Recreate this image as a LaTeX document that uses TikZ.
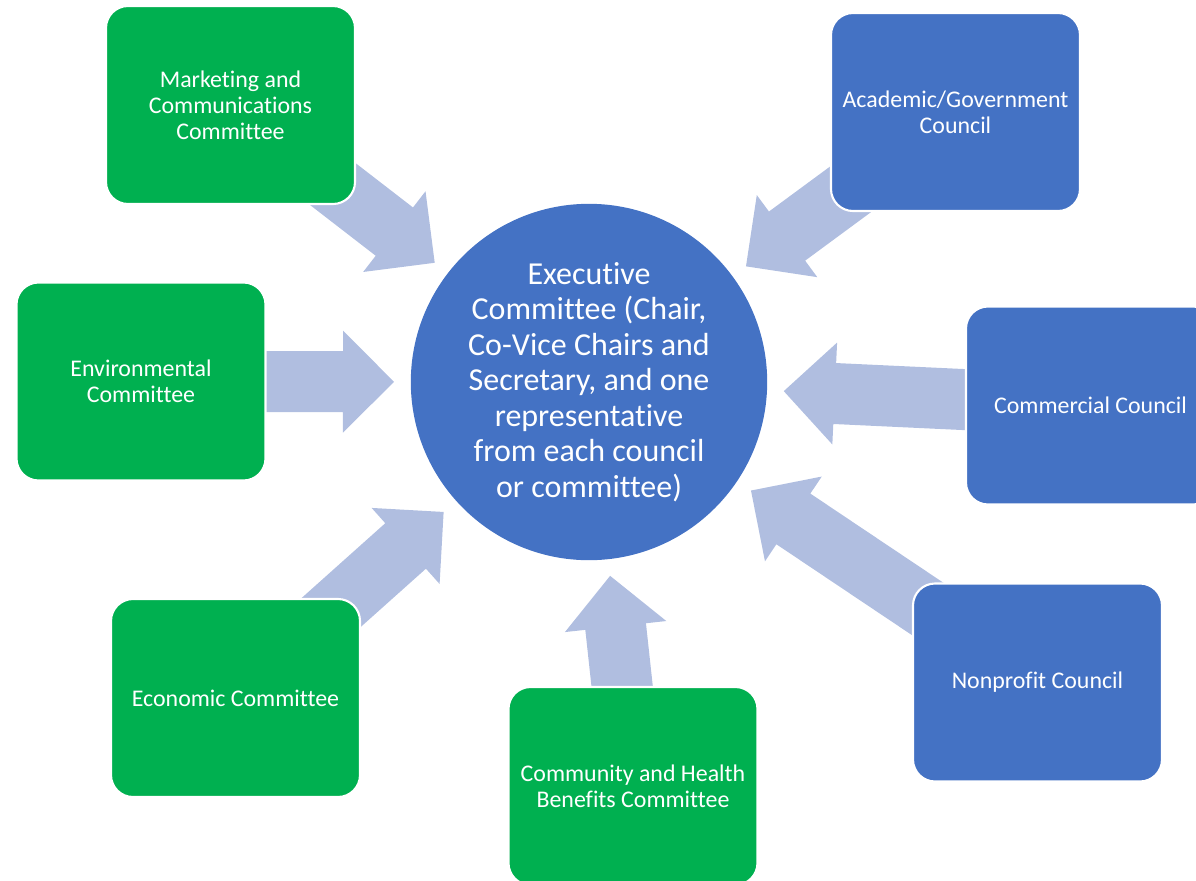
\documentclass[tikz,border=0pt]{standalone}
\usepackage{fontspec}
\setmainfont{Carlito}[Ligatures=NoCommon]
\usetikzlibrary{calc}
\usetikzlibrary{backgrounds}
\definecolor{execblue}{HTML}{4472C4}
\definecolor{commgreen}{HTML}{00B050}
\definecolor{arrowblue}{RGB}{176,190,224}
\newcommand{\radarrow}[1]{%
  \path ($(exec.center)!3.9cm!(#1.center)$) coordinate (tip)
        ($(exec.center)!4.92cm!(#1.center)$) coordinate (hb);
  \fill[arrowblue] ($(#1.center)!0.61cm!90:(tip)$) -- ($(hb)!0.61cm!90:(tip)$)
     -- ($(hb)!1.02cm!90:(tip)$) -- (tip) -- ($(hb)!1.02cm!-90:(tip)$)
     -- ($(hb)!0.61cm!-90:(tip)$) -- ($(#1.center)!0.61cm!-90:(tip)$) -- cycle;}

\begin{document}
\begin{tikzpicture}[
    box/.style={draw=white,line width=1.2pt,rounded corners=0.44cm,
      minimum width=4.98cm,minimum height=3.96cm,inner sep=0pt,
      text=white,align=center,font=\fontsize{13.6}{14.8}\selectfont},
    committee/.style={box,fill=commgreen},
    council/.style={box,fill=execblue}]
                        \useasboundingbox (0,0) rectangle (23.92,-17.6);
                        \clip (0,0) rectangle (23.92,-17.6);
                        \node[circle,fill=execblue,minimum size=7.12cm,text=white,align=center,
                            font=\fontsize{18.2}{20.2}\selectfont] (exec) at (11.78,-7.64)
                            {Executive\\Committee (Chair,\\Co-Vice Chairs and\\Secretary, and one\\representative\\from each council\\or committee)};
                        \node[committee] (mkt) at (4.61,-2.10) {Marketing and\\Communications\\Committee};
                        \node[committee] (env) at (2.82,-7.63) {Environmental\\Committee};
                        \node[committee] (eco) at (4.71,-13.96) {Economic Committee};
                        \node[committee] (chb) at (12.66,-15.72) {Community and Health\\Benefits Committee};
                        \node[council] (npc) at (20.75,-13.65) {Nonprofit Council};
                        \node[council] (cmc) at (21.81,-8.11) {Commercial Council};
                        \node[council] (agc) at (19.11,-2.24) {Academic/Government\\Council};
                        \begin{scope}[on background layer]
                            \radarrow{mkt}
                            \radarrow{env}
                            \radarrow{eco}
                            \radarrow{chb}
                            \radarrow{npc}
                            \radarrow{cmc}
                            \radarrow{agc}
                        \end{scope}
                    \end{tikzpicture}
\end{document}
